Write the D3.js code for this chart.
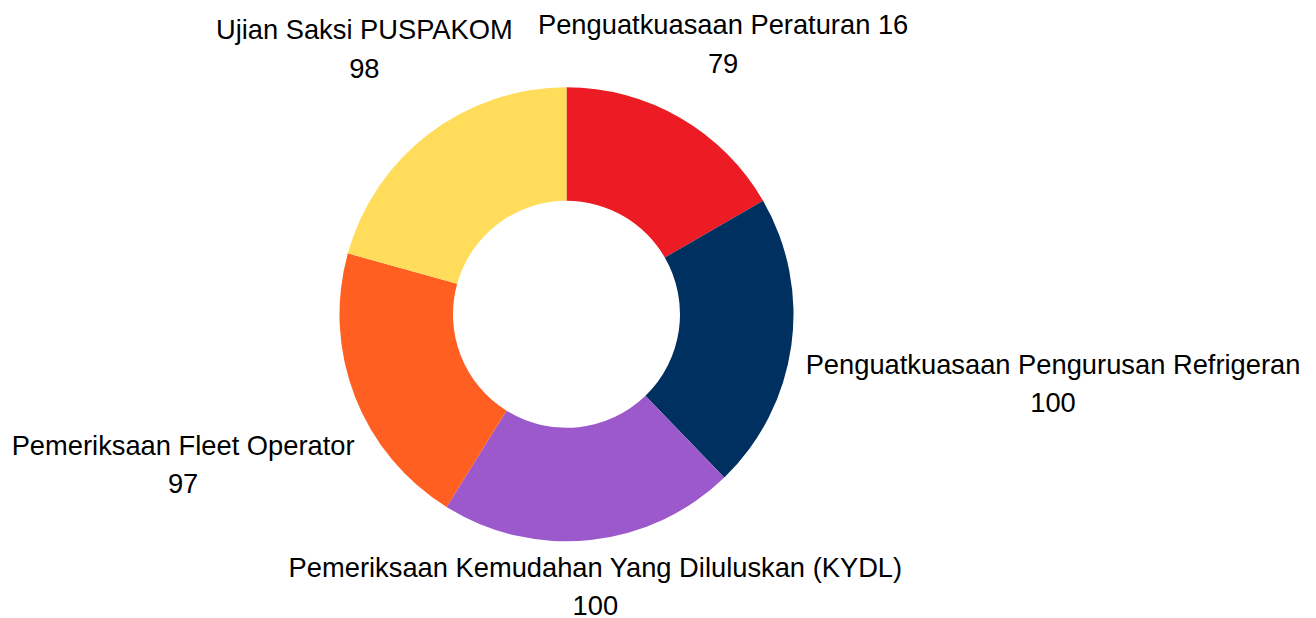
<!DOCTYPE html>
<html>
<head>
<meta charset="utf-8">
<script src="https://cdn.jsdelivr.net/npm/d3@7"></script>
<style>
  html, body { margin: 0; padding: 0; background: #fff; }
  text { font-family: "Liberation Sans", Arial, Helvetica, sans-serif; }
</style>
</head>
<body>
<div id="chart"></div>
<script>
// data
var categories = [
  "Penguatkuasaan Peraturan 16",
  "Penguatkuasaan Pengurusan Refrigeran",
  "Pemeriksaan Kemudahan Yang Diluluskan (KYDL)",
  "Pemeriksaan Fleet Operator",
  "Ujian Saksi PUSPAKOM"
];
var values = [79, 100, 100, 97, 98];
var colors = ["#ED1C24", "#00305F", "#9B59CB", "#FF5F21", "#FFDD5B"];

var width = 1316, height = 618;
var cx = 566.5, cy = 314.3;
var outerR = 227, innerR = 113.5;
var labelGap = 9.5, padX = 5, shiftY = 1;
var fontSize = 27.3, lineGap = 38.5;

var svg = d3.select("#chart")
  .append("svg")
    .attr("width", width)
    .attr("height", height);

var g = svg.append("g")
    .attr("transform", "translate(" + cx + "," + cy + ")");

var data = categories.map(function(c, i) { return {name: c, value: values[i], color: colors[i]}; });

var pie = d3.pie()
  .value(function(d) { return d.value; })
  .sort(null);

var arc = d3.arc()
  .innerRadius(innerR)
  .outerRadius(outerR);

var arcs = pie(data);

// slices
g.selectAll("path.slice")
  .data(arcs)
  .enter()
  .append("path")
    .attr("class", "slice")
    .attr("d", arc)
    .attr("fill", function(d) { return d.data.color; });

// labels: name + value, pushed out along the mid angle until the box clears the ring
var labels = g.selectAll("g.label")
  .data(arcs)
  .enter()
  .append("g")
    .attr("class", "label");

labels.append("text")
  .attr("text-anchor", "middle")
  .attr("font-size", fontSize)
  .attr("fill", "#000")
  .attr("y", 0)
  .text(function(d) { return d.data.name; });

labels.append("text")
  .attr("text-anchor", "middle")
  .attr("font-size", fontSize)
  .attr("fill", "#000")
  .attr("y", lineGap)
  .text(function(d) { return d.data.value; });

labels.each(function(d) {
  var bb = this.getBBox();
  var hw = bb.width / 2 + padX, hh = bb.height / 2;
  var offX = bb.x + bb.width / 2, offY = bb.y + bb.height / 2;
  var mid = (d.startAngle + d.endAngle) / 2;
  var ux = Math.sin(mid), uy = -Math.cos(mid);
  var target = outerR + labelGap;
  function boxDist(dd) {
    var px = Math.max(0, Math.abs(dd * ux) - hw);
    var py = Math.max(0, Math.abs(dd * uy) - hh);
    return Math.sqrt(px * px + py * py);
  }
  var lo = 0, hi = 2000;
  for (var k = 0; k < 60; k++) {
    var m = (lo + hi) / 2;
    if (boxDist(m) < target) lo = m; else hi = m;
  }
  var dd = (lo + hi) / 2;
  d3.select(this).attr("transform",
    "translate(" + (dd * ux - offX) + "," + (dd * uy + shiftY - offY) + ")");
});
</script>
</body>
</html>
